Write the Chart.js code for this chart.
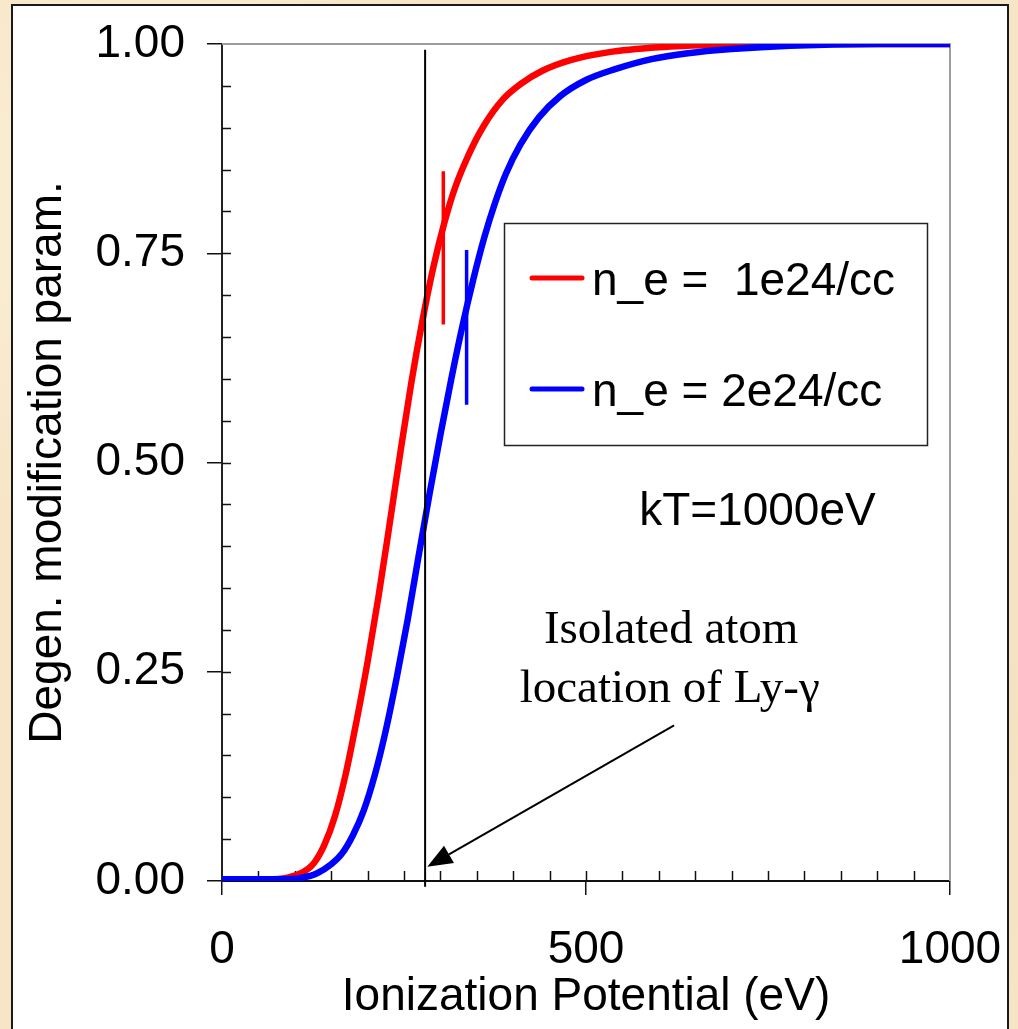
<!DOCTYPE html>
<html>
<head>
<meta charset="utf-8">
<script src="https://cdn.jsdelivr.net/npm/chart.js@4.4.1/dist/chart.umd.min.js"></script>
<style>
  html, body { margin: 0; padding: 0; }
  body {
    width: 1018px; height: 1029px; overflow: hidden; position: relative;
    background:
      radial-gradient(circle at 15% 20%, rgba(255,244,222,0.8) 0, rgba(255,244,222,0) 30%),
      radial-gradient(circle at 80% 70%, rgba(240,220,185,0.7) 0, rgba(240,220,185,0) 35%),
      #f6e5c6;
  }
  #panel {
    position: absolute; left: 11px; top: 4px; width: 998px; height: 1040px;
    background: #fff; border: 2px solid #1a1a1a; box-sizing: border-box;
  }
  #c { position: absolute; left: 0; top: 0; }
</style>
</head>
<body>
<div id="panel"></div>
<canvas id="c" width="1018" height="1029"></canvas>
<script>
// Degeneracy modification parameter vs. ionization potential, kT = 1000 eV
const energyLow = [0, 60, 90, 110, 125, 140, 155, 170, 185, 200, 215, 230, 245, 260, 275, 290, 305, 320, 340, 360, 385, 410, 440, 480, 530, 600, 680, 780, 1000];
const paramLow  = [0.002, 0.002, 0.004, 0.010, 0.020, 0.042, 0.077, 0.128, 0.192, 0.262, 0.340, 0.425, 0.512, 0.595, 0.668, 0.732, 0.785, 0.828, 0.870, 0.903, 0.933, 0.952, 0.968, 0.981, 0.990, 0.996, 0.999, 1.0, 1.0];

const energyHigh = [0, 80, 110, 130, 150, 165, 180, 195, 210, 225, 240, 255, 270, 285, 300, 315, 330, 345, 360, 375, 390, 410, 435, 465, 500, 540, 590, 640, 700, 780, 900, 1000];
const paramHigh  = [0.002, 0.002, 0.004, 0.009, 0.020, 0.033, 0.055, 0.085, 0.127, 0.180, 0.243, 0.312, 0.388, 0.462, 0.533, 0.600, 0.662, 0.718, 0.768, 0.810, 0.845, 0.880, 0.912, 0.938, 0.957, 0.970, 0.982, 0.989, 0.994, 0.998, 1.0, 1.0];

const seriesLabels = ['n_e =  1e24/cc', 'n_e = 2e24/cc'];
const seriesColors = ['#ff0000', '#0000ff'];

// short vertical markers on each curve
const markerEnergy = [304, 336];
const markerLow    = [0.665, 0.569];
const markerHigh   = [0.848, 0.754];

// isolated-atom Ly-gamma position
const lyGammaEnergy = 279;
const lyGammaSpan = [-0.007, 0.993];

const xTicks = [0, 500, 1000];
const yTicks = [0, 0.25, 0.5, 0.75, 1.0];
const xMinorStep = 50;
const yMinorStep = 0.05;

const SANS = '"Liberation Sans", Arial, Helvetica, sans-serif';
const SERIF = '"Liberation Serif", "Times New Roman", serif';

const toXY = (xs, ys) => xs.map((x, i) => ({ x, y: ys[i] }));

const datasets = [
  { label: seriesLabels[0], data: toXY(energyLow, paramLow), borderColor: seriesColors[0],
    borderWidth: 6.5, pointRadius: 0, cubicInterpolationMode: 'monotone', order: 3 },
  { label: seriesLabels[1], data: toXY(energyHigh, paramHigh), borderColor: seriesColors[1],
    borderWidth: 6.5, pointRadius: 0, cubicInterpolationMode: 'monotone', order: 2 },
  { label: 'marker-low', data: [{ x: markerEnergy[0], y: markerLow[0] }, { x: markerEnergy[0], y: markerHigh[0] }],
    borderColor: seriesColors[0], borderWidth: 3.5, pointRadius: 0, order: 1 },
  { label: 'marker-high', data: [{ x: markerEnergy[1], y: markerLow[1] }, { x: markerEnergy[1], y: markerHigh[1] }],
    borderColor: seriesColors[1], borderWidth: 3.5, pointRadius: 0, order: 1 },
  { label: 'Ly-gamma', data: [{ x: lyGammaEnergy, y: lyGammaSpan[0] }, { x: lyGammaEnergy, y: lyGammaSpan[1] }],
    borderColor: '#000', borderWidth: 2, pointRadius: 0, clip: false, order: 0 }
];

const notes = [
  { text: 'kT=1000eV', x: 573, y: 0.425, font: '46px ' + SANS, align: 'left' },
  { text: 'Isolated atom', x: 617, y: 0.284, font: '47px ' + SERIF, align: 'center' },
  { text: 'location of Ly-\u03B3', x: 615, y: 0.214, font: '47px ' + SERIF, align: 'center' }
];
const arrowFrom = { x: 621, y: 0.186 };
const arrowTo = { x: 282, y: 0.017 };

// frame on top/right plus inward minor ticks
const framePlugin = {
  id: 'frame',
  beforeDatasetsDraw(chart) {
    const { ctx, chartArea: a, scales: { x, y } } = chart;
    ctx.save();
    ctx.strokeStyle = '#9d9d9d';
    ctx.lineWidth = 2;
    ctx.beginPath();
    ctx.moveTo(a.left, a.top);
    ctx.lineTo(a.right, a.top);
    ctx.lineTo(a.right, a.bottom);
    ctx.stroke();

    ctx.strokeStyle = '#111';
    ctx.lineWidth = 1.5;
    ctx.beginPath();
    for (let v = xMinorStep; v < x.max; v += xMinorStep) {
      const px = Math.round(x.getPixelForValue(v)) + 0.5;
      ctx.moveTo(px, a.bottom);
      ctx.lineTo(px, a.bottom - 10);
    }
    for (let i = 1; i * yMinorStep < y.max - 1e-9; i++) {
      const py = Math.round(y.getPixelForValue(i * yMinorStep)) + 0.5;
      ctx.moveTo(a.left, py);
      ctx.lineTo(a.left + 9, py);
    }
    ctx.stroke();
    ctx.restore();
  },
  afterDraw(chart) {
    const { ctx, chartArea: a, scales: { x, y } } = chart;
    ctx.save();

    // legend box
    const bx = a.left + 282, by = a.top + 179, bw = 423, bh = 222;
    ctx.fillStyle = '#fff';
    ctx.fillRect(bx, by, bw, bh);
    ctx.strokeStyle = '#222';
    ctx.lineWidth = 1.5;
    ctx.strokeRect(bx + 0.5, by + 0.5, bw, bh);
    const rows = [by + 55, by + 166];
    ctx.font = '46px ' + SANS;
    ctx.textAlign = 'left';
    ctx.textBaseline = 'middle';
    seriesLabels.forEach((lab, i) => {
      ctx.strokeStyle = seriesColors[i];
      ctx.lineWidth = 5;
      ctx.lineCap = 'round';
      ctx.beginPath();
      ctx.moveTo(bx + 28, rows[i]);
      ctx.lineTo(bx + 78, rows[i]);
      ctx.stroke();
      ctx.fillStyle = '#000';
      ctx.fillText(lab, bx + 88, rows[i] + 4);
    });

    // annotations
    ctx.fillStyle = '#000';
    ctx.textBaseline = 'alphabetic';
    notes.forEach(n => {
      ctx.font = n.font;
      ctx.textAlign = n.align;
      ctx.fillText(n.text, x.getPixelForValue(n.x), y.getPixelForValue(n.y));
    });

    // arrow
    const x0 = x.getPixelForValue(arrowFrom.x), y0 = y.getPixelForValue(arrowFrom.y);
    const x1 = x.getPixelForValue(arrowTo.x), y1 = y.getPixelForValue(arrowTo.y);
    const ang = Math.atan2(y1 - y0, x1 - x0);
    const headLen = 25, headHalf = 10;
    const bxh = x1 - headLen * Math.cos(ang), byh = y1 - headLen * Math.sin(ang);
    ctx.strokeStyle = '#000';
    ctx.lineWidth = 2;
    ctx.lineCap = 'butt';
    ctx.beginPath();
    ctx.moveTo(x0, y0);
    ctx.lineTo(bxh, byh);
    ctx.stroke();
    ctx.beginPath();
    ctx.moveTo(x1, y1);
    ctx.lineTo(bxh + headHalf * Math.sin(ang), byh - headHalf * Math.cos(ang));
    ctx.lineTo(bxh - headHalf * Math.sin(ang), byh + headHalf * Math.cos(ang));
    ctx.closePath();
    ctx.fill();
    ctx.restore();
  }
};

new Chart(document.getElementById('c'), {
  type: 'line',
  data: { datasets },
  options: {
    responsive: false,
    animation: false,
    devicePixelRatio: 1,
    layout: { padding: { left: 0, top: 44, right: 68, bottom: 0 } },
    plugins: { legend: { display: false }, tooltip: { enabled: false } },
    scales: {
      x: {
        type: 'linear', min: 0, max: 1000,
        afterBuildTicks: s => { s.ticks = xTicks.map(v => ({ value: v })); },
        ticks: { font: { family: SANS, size: 46 }, color: '#000', padding: 28, maxRotation: 0, autoSkip: false, callback: v => String(v) },
        grid: { drawOnChartArea: false, tickLength: 14, color: '#111', lineWidth: 1.5 },
        border: { color: '#111', width: 2 },
        title: { display: true, text: 'Ionization Potential (eV)', font: { family: SANS, size: 46 }, color: '#000', padding: { top: 0, bottom: 4 } },
        afterFit: s => { s.height = 148; s.paddingLeft = 0; s.paddingRight = 0; }
      },
      y: {
        type: 'linear', min: 0, max: 1,
        afterBuildTicks: s => { s.ticks = yTicks.map(v => ({ value: v })); },
        ticks: { font: { family: SANS, size: 46 }, color: '#000', padding: 22, callback: v => Number(v).toFixed(2) },
        grid: { drawOnChartArea: false, tickLength: 15, color: '#111', lineWidth: 1.5 },
        border: { color: '#222', width: 2 },
        title: { display: true, text: 'Degen. modification param.', font: { family: SANS, size: 46 }, color: '#000', padding: { top: 21, bottom: 0 } },
        afterFit: s => { s.width = 222; s.paddingTop = 0; s.paddingBottom = 0; }
      }
    }
  },
  plugins: [framePlugin]
});
</script>
</body>
</html>
